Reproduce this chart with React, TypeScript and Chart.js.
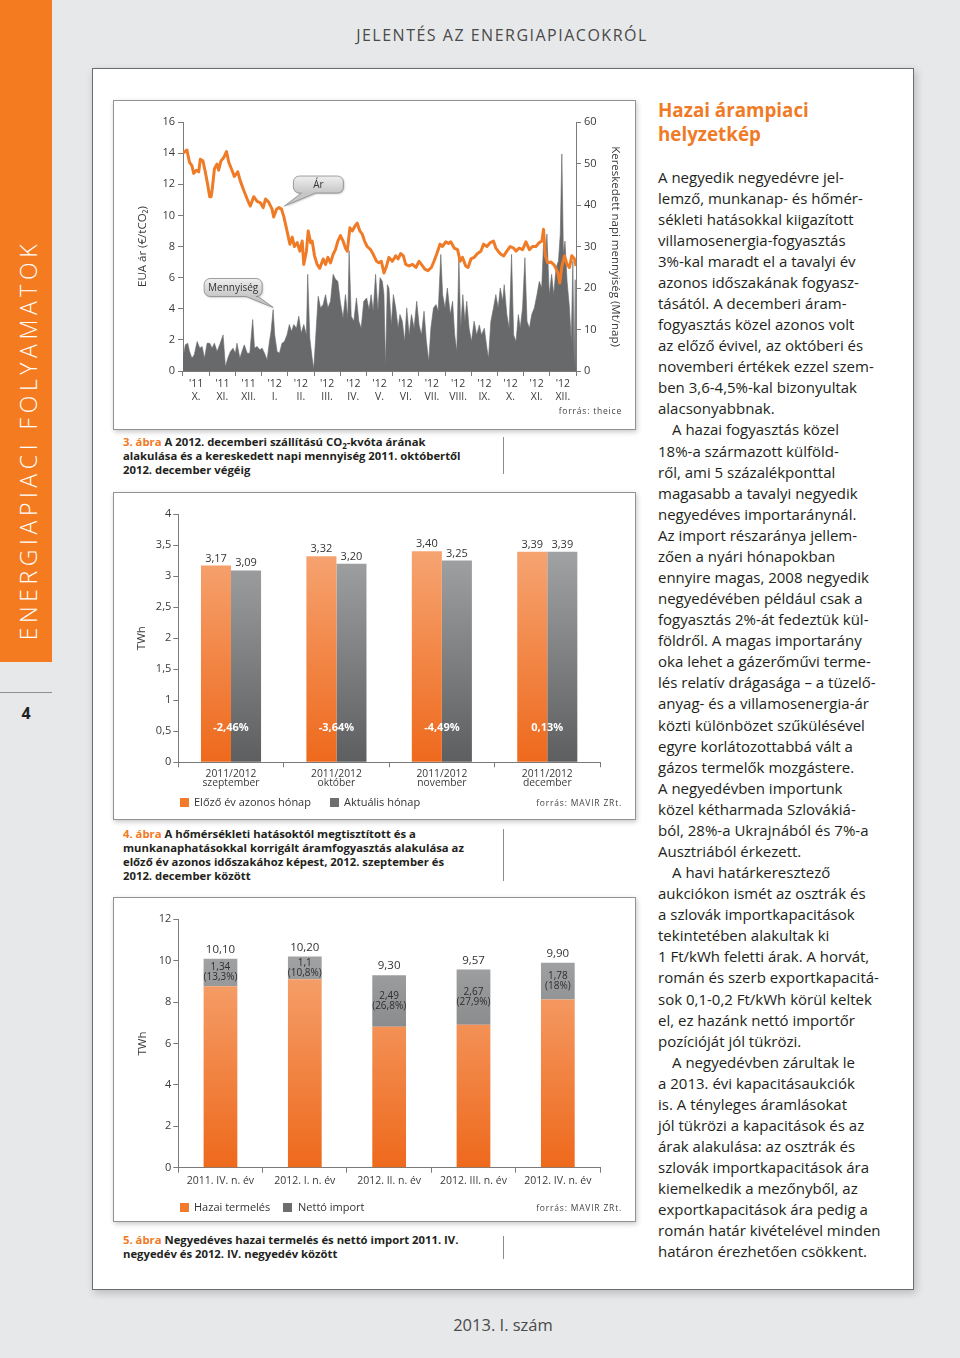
import React, { useEffect, useRef } from 'react';
import { Chart, registerables } from 'chart.js';

Chart.register(...registerables);

const FONT = '"Open Sans", "DejaVu Sans", sans-serif';
Chart.defaults.font.family = FONT;
Chart.defaults.color = '#3a3a3a';

// ---------- Chart 1 (3. ábra) data ----------
const monthYears = ["'11", "'11", "'11", "'12", "'12", "'12", "'12", "'12", "'12", "'12", "'12", "'12", "'12", "'12", "'12"];
const monthNames = ['X.', 'XI.', 'XII.', 'I.', 'II.', 'III.', 'IV.', 'V.', 'VI.', 'VII.', 'VIII.', 'IX.', 'X.', 'XI.', 'XII.'];

// time in months since 1 Oct 2011, price in EUR/tCO2
const priceT = [0, 0.15, 0.25, 0.34, 0.41, 0.51, 0.6, 0.66, 0.76, 0.85, 0.94, 1.02, 1.07, 1.11, 1.2, 1.3, 1.36, 1.45, 1.55, 1.66, 1.75, 1.87, 1.96, 2.09, 2.19, 2.32, 2.45, 2.57, 2.7, 2.83, 2.96, 3.06, 3.15, 3.27, 3.4, 3.46, 3.57, 3.66, 3.76, 3.85, 3.97, 4.08, 4.17, 4.25, 4.36, 4.46, 4.55, 4.61, 4.71, 4.78, 4.87, 4.93, 5.02, 5.12, 5.22, 5.35, 5.44, 5.53, 5.63, 5.73, 5.82, 5.91, 6.01, 6.11, 6.2, 6.27, 6.37, 6.46, 6.56, 6.65, 6.75, 6.84, 6.93, 7.03, 7.16, 7.26, 7.39, 7.48, 7.57, 7.67, 7.77, 7.86, 7.99, 8.12, 8.21, 8.31, 8.41, 8.5, 8.63, 8.76, 8.89, 9.01, 9.1, 9.23, 9.35, 9.48, 9.58, 9.68, 9.81, 9.9, 10.03, 10.13, 10.22, 10.35, 10.48, 10.58, 10.67, 10.79, 10.88, 10.99, 11.11, 11.24, 11.37, 11.47, 11.6, 11.73, 11.85, 11.94, 12.03, 12.13, 12.24, 12.36, 12.49, 12.62, 12.71, 12.83, 12.96, 13.09, 13.22, 13.34, 13.47, 13.6, 13.7, 13.76, 13.83, 13.92, 14.05, 14.17, 14.3, 14.38, 14.46, 14.56, 14.66, 14.75, 14.84, 14.94, 15];
const priceV = [14.0, 14.2, 13.4, 13.2, 12.7, 12.9, 12.8, 13.6, 13.5, 12.8, 12.0, 11.2, 11.2, 11.6, 13.0, 13.3, 12.9, 13.5, 13.7, 14.1, 13.4, 12.9, 12.5, 12.8, 12.2, 11.6, 11.05, 10.6, 11.2, 10.9, 10.8, 10.5, 11.05, 10.85, 10.4, 9.9, 10.4, 10.5, 10.4, 9.9, 9.0, 8.15, 8.6, 8.0, 8.25, 7.7, 8.35, 6.85, 7.7, 9.0, 8.25, 8.35, 7.4, 6.85, 6.6, 7.2, 6.85, 7.3, 6.95, 7.5, 7.8, 8.35, 8.7, 8.35, 7.9, 7.7, 9.2, 9.0, 9.3, 9.5, 9.0, 8.8, 8.35, 8.0, 7.8, 7.5, 7.05, 6.95, 7.05, 6.3, 6.75, 7.3, 7.05, 7.4, 7.2, 7.55, 7.4, 6.85, 6.75, 6.85, 6.65, 7.05, 6.85, 6.55, 6.45, 6.65, 7.05, 7.5, 8.15, 8.0, 8.3, 8.2, 8.3, 7.9, 7.8, 7.05, 7.3, 6.75, 6.65, 7.2, 7.3, 7.55, 7.7, 8.15, 8.0, 8.25, 8.35, 7.9, 7.7, 7.5, 7.4, 7.7, 8.0, 7.9, 7.7, 7.9, 7.8, 8.3, 7.8, 8.0, 8.0, 8.25, 8.35, 9.1, 7.4, 6.95, 7.0, 6.8, 6.35, 5.65, 6.7, 7.4, 6.85, 6.65, 7.4, 7.2, 6.75];

// traded daily volume, Mt/day
const volT = [0, 0.03, 0.09, 0.18, 0.25, 0.34, 0.43, 0.54, 0.64, 0.73, 0.82, 0.92, 1.02, 1.11, 1.2, 1.3, 1.4, 1.53, 1.62, 1.71, 1.81, 1.91, 2.0, 2.06, 2.17, 2.25, 2.34, 2.45, 2.55, 2.66, 2.73, 2.83, 2.93, 3.02, 3.11, 3.21, 3.3, 3.36, 3.44, 3.5, 3.59, 3.68, 3.78, 3.87, 3.97, 4.06, 4.14, 4.23, 4.33, 4.42, 4.51, 4.61, 4.71, 4.76, 4.84, 4.93, 4.99, 5.07, 5.16, 5.25, 5.35, 5.44, 5.53, 5.63, 5.73, 5.82, 5.91, 6.01, 6.11, 6.2, 6.29, 6.34, 6.42, 6.52, 6.62, 6.71, 6.8, 6.9, 7.01, 7.1, 7.18, 7.26, 7.35, 7.44, 7.52, 7.61, 7.67, 7.73, 7.8, 7.86, 7.95, 8.03, 8.12, 8.21, 8.28, 8.37, 8.46, 8.54, 8.63, 8.72, 8.82, 8.92, 9.01, 9.1, 9.2, 9.29, 9.38, 9.46, 9.56, 9.66, 9.74, 9.84, 9.91, 10.0, 10.09, 10.2, 10.29, 10.37, 10.45, 10.53, 10.6, 10.68, 10.76, 10.83, 10.92, 11.01, 11.11, 11.21, 11.31, 11.39, 11.5, 11.6, 11.66, 11.75, 11.85, 11.94, 12.03, 12.11, 12.2, 12.26, 12.36, 12.45, 12.54, 12.62, 12.71, 12.8, 12.87, 12.96, 13.05, 13.13, 13.22, 13.31, 13.41, 13.51, 13.6, 13.69, 13.76, 13.83, 13.89, 13.98, 14.07, 14.15, 14.24, 14.33, 14.4, 14.46, 14.52, 14.58, 14.66, 14.75, 14.82, 14.88, 14.93, 14.97, 15];
const volV = [3, 3, 6.3, 6.7, 4.7, 3.1, 3.9, 7.1, 5.5, 5.9, 3.1, 6.7, 6.7, 5.5, 6.7, 4.7, 6.3, 8.7, 1.0, 3.1, 4.7, 5.5, 4.3, 6.7, 3.1, 4.7, 6.3, 4.3, 4.3, 12.4, 5.5, 5.9, 5.1, 5.5, 4.3, 2.7, 7.1, 9.5, 14.8, 8.7, 4.7, 4.3, 6.7, 7.1, 8.7, 11.2, 9.5, 11.2, 10.3, 13.2, 9.1, 11.2, 8.7, 23.3, 7.9, 3.1, 0.5, 8.7, 18.0, 15.2, 16.0, 18.4, 15.2, 16.8, 23.3, 22.1, 21.6, 16.4, 12.8, 18.4, 12.8, 29, 13.2, 12, 17.6, 12, 10.3, 16.8, 17.6, 14.8, 18.4, 14.4, 23.3, 14.4, 22.5, 21.6, 18.4, 1.0, 20.8, 20, 11.1, 18.4, 15.2, 10.3, 13.6, 12, 7.1, 15.2, 8.7, 13.6, 10.3, 16.8, 11.1, 8.7, 14.4, 7.1, 2.3, 10.3, 15.2, 16, 14.4, 28.1, 18.4, 15.2, 20, 13.6, 16.8, 8.7, 4.7, 27.3, 10.3, 18.4, 12, 16.8, 10.3, 7.1, 12, 8.7, 11.1, 8.7, 10.3, 5.5, 3.1, 12, 15.2, 18.4, 15.2, 20, 16.8, 20.8, 13.6, 10.3, 28.1, 8.7, 7.1, 13.6, 10.3, 15.2, 27.3, 12, 10.3, 13.6, 15.2, 18.4, 21.6, 20, 30.5, 26.5, 33, 18.4, 23.3, 18.4, 24.9, 26.5, 33, 52.3, 28.1, 31.3, 21.6, 15.2, 7.1, 26.5, 0.6, 22, 0];

// callouts: text, time, value, axis
const calloutText = ['Ár', 'Mennyiség'];
const calloutT = [3.87, 3.44];
const calloutV = [10.6, 15.3];
const calloutAxis = ['y', 'y1'];

// ---------- Chart 2 (4. ábra) data ----------
const consCategories = [['2011/2012', 'szeptember'], ['2011/2012', 'október'], ['2011/2012', 'november'], ['2011/2012', 'december']];
const consPrev = [3.17, 3.32, 3.40, 3.39];
const consCurr = [3.09, 3.20, 3.25, 3.39];
const consChange = ['-2,46%', '-3,64%', '-4,49%', '0,13%'];

// ---------- Chart 3 (5. ábra) data ----------
const quarters = ['2011. IV. n. év', '2012. I. n. év', '2012. II. n. év', '2012. III. n. év', '2012. IV. n. év'];
const quarterTotal = [10.10, 10.20, 9.30, 9.57, 9.90];
const quarterImport = [1.34, 1.1, 2.49, 2.67, 1.78];
const quarterImportShare = ['13,3%', '10,8%', '26,8%', '27,9%', '18%'];
const quarterDomestic = quarterTotal.map((t, i) => +(t - quarterImport[i]).toFixed(2));

// ---------- styles ----------
const ORANGE = '#f07b27';
const AXIS = '#7a7a7a';
const TICK = '#3a3a3a';

const comma = (v: number) => String(v).replace('.', ',');
const fixed2 = (v: number) => v.toFixed(2).replace('.', ',');

function grad(chart: any, top: string, bottom: string) {
  const a = chart.chartArea;
  if (!a) return bottom;
  const g = chart.ctx.createLinearGradient(0, a.bottom, 0, a.top);
  g.addColorStop(0, bottom);
  g.addColorStop(1, top);
  return g;
}
const orangeFill = (c: any) => grad(c.chart, '#f7ae80', '#ee691c');
const grayFill = (c: any) => grad(c.chart, '#adaeb0', '#5d5e60');

const calloutPlugin = {
  id: 'callouts',
  afterDatasetsDraw(chart: any) {
    const { ctx, scales } = chart;
    const geo = [
      { dx: 9, dy: -30, w: 50, h: 17, b1: 8, b2: 22 },
      { dx: -69, dy: -29, w: 58, h: 18, b1: 42, b2: 54 },
    ];
    calloutText.forEach((txt, i) => {
      const tx = scales.x.getPixelForValue(calloutT[i]);
      const ty = scales[calloutAxis[i]].getPixelForValue(calloutV[i]);
      const g = geo[i];
      const x = tx + g.dx, y = ty + g.dy, w = g.w, h = g.h, r = 6;
      ctx.save();
      ctx.beginPath();
      ctx.moveTo(x + r, y);
      ctx.lineTo(x + w - r, y);
      ctx.arcTo(x + w, y, x + w, y + r, r);
      ctx.lineTo(x + w, y + h - r);
      ctx.arcTo(x + w, y + h, x + w - r, y + h, r);
      ctx.lineTo(x + g.b2, y + h);
      ctx.lineTo(tx, ty);
      ctx.lineTo(x + g.b1, y + h);
      ctx.lineTo(x + r, y + h);
      ctx.arcTo(x, y + h, x, y + h - r, r);
      ctx.lineTo(x, y + r);
      ctx.arcTo(x, y, x + r, y, r);
      ctx.closePath();
      const gr = ctx.createLinearGradient(0, y, 0, y + h);
      gr.addColorStop(0, '#efefef');
      gr.addColorStop(1, '#c6c6c6');
      ctx.fillStyle = gr;
      ctx.shadowColor = 'rgba(0,0,0,0.25)';
      ctx.shadowBlur = 2;
      ctx.shadowOffsetX = 1;
      ctx.shadowOffsetY = 1;
      ctx.fill();
      ctx.shadowColor = 'transparent';
      ctx.strokeStyle = '#8a8a8a';
      ctx.lineWidth = 0.8;
      ctx.stroke();
      ctx.fillStyle = '#333';
      ctx.font = `10px ${FONT}`;
      ctx.textAlign = 'center';
      ctx.textBaseline = 'middle';
      ctx.fillText(txt, x + w / 2, y + h / 2 + 0.5);
      ctx.restore();
    });
  },
};

function yAxis(opts: any) {
  return {
    border: { color: AXIS },
    grid: { drawOnChartArea: false, tickLength: 5, color: AXIS },
    ...opts,
  };
}

function config1(): any {
  return {
    type: 'line',
    data: {
      datasets: [
        {
          label: 'Ár',
          data: priceT.map((x, i) => ({ x, y: priceV[i] })),
          yAxisID: 'y',
          borderColor: ORANGE,
          borderWidth: 3,
          pointRadius: 0,
          borderJoinStyle: 'round',
          order: 0,
        },
        {
          label: 'Mennyiség',
          data: volT.map((x, i) => ({ x, y: volV[i] })),
          yAxisID: 'y1',
          fill: 'origin',
          backgroundColor: '#68696b',
          borderColor: '#68696b',
          borderWidth: 0.6,
          pointRadius: 0,
          order: 1,
        },
      ],
    },
    options: {
      animation: false,
      responsive: false,
      events: [],
      layout: { padding: { top: 22, left: 0, right: 0, bottom: 0 } },
      plugins: { legend: { display: false }, tooltip: { enabled: false } },
      scales: {
        x: {
          type: 'linear',
          min: 0,
          max: 15,
          afterBuildTicks: (s: any) => {
            s.ticks = monthNames.map((_, i) => ({ value: i + 0.5 }));
          },
          ticks: {
            autoSkip: false,
            maxRotation: 0,
            padding: 1,
            color: TICK,
            font: { size: 10.5, lineHeight: 1.3 },
            callback: (_v: any, i: number) => [monthYears[i], monthNames[i]],
          },
          grid: { offset: true, drawOnChartArea: false, tickLength: 5, color: AXIS },
          border: { color: AXIS },
          afterFit: (s: any) => { s.height = 59; },
        },
        y: yAxis({
          position: 'left',
          min: 0,
          max: 16,
          ticks: { stepSize: 2, padding: 3, color: TICK, font: { size: 11 } },
          title: { display: true, text: 'EUA ár (€/tCO₂)', color: TICK, font: { size: 11.5 }, padding: { top: 23, bottom: 0 } },
          afterFit: (s: any) => { s.width = 70; },
        }),
        y1: yAxis({
          position: 'right',
          min: 0,
          max: 60,
          ticks: { stepSize: 10, padding: 3, color: TICK, font: { size: 11 } },
          title: { display: true, text: 'Kereskedett napi mennyiség (Mt/nap)', color: TICK, font: { size: 11.5 }, padding: { top: 14, bottom: 0 } },
          afterFit: (s: any) => { s.width = 60; },
        }),
      },
    },
    plugins: [calloutPlugin],
  };
}

function barX(labels: any, height: number, fontSize: number, lh: number) {
  return {
    ticks: { color: TICK, font: { size: fontSize, lineHeight: lh }, padding: 2, maxRotation: 0, autoSkip: false },
    grid: { offset: true, drawOnChartArea: false, tickLength: 5, color: AXIS },
    border: { color: AXIS },
    afterFit: (s: any) => { s.height = height; },
  };
}

const consLabelPlugin = {
  id: 'consLabels',
  afterDatasetsDraw(chart: any) {
    const { ctx } = chart;
    ctx.save();
    ctx.font = `11px ${FONT}`;
    ctx.fillStyle = '#333';
    ctx.textAlign = 'center';
    ctx.textBaseline = 'alphabetic';
    chart.data.datasets.forEach((ds: any, di: number) => {
      chart.getDatasetMeta(di).data.forEach((bar: any, i: number) => {
        ctx.fillText(fixed2(ds.data[i]), bar.x, bar.y - 4);
      });
    });
    ctx.font = `bold 11px ${FONT}`;
    ctx.fillStyle = '#ffffff';
    ctx.textBaseline = 'middle';
    const y = chart.scales.y.getPixelForValue(0.55);
    consChange.forEach((t, i) => ctx.fillText(t, chart.scales.x.getPixelForValue(i), y));
    ctx.restore();
  },
};

function config2(): any {
  return {
    type: 'bar',
    data: {
      labels: consCategories,
      datasets: [
        { label: 'Előző év azonos hónap', data: consPrev, backgroundColor: orangeFill, categoryPercentage: 0.57, barPercentage: 1 },
        { label: 'Aktuális hónap', data: consCurr, backgroundColor: grayFill, categoryPercentage: 0.57, barPercentage: 1 },
      ],
    },
    options: {
      animation: false,
      responsive: false,
      events: [],
      layout: { padding: { top: 22, left: 0, right: 36, bottom: 0 } },
      plugins: { legend: { display: false }, tooltip: { enabled: false } },
      scales: {
        x: barX(consCategories, 57.7, 10.3, 0.9),
        y: yAxis({
          min: 0,
          max: 4,
          ticks: { stepSize: 0.5, padding: 2, color: TICK, font: { size: 11 }, callback: (v: number) => comma(v) },
          title: { display: true, text: 'TWh', color: TICK, font: { size: 11.5 }, padding: { top: 22, bottom: 0 } },
          afterFit: (s: any) => { s.width = 65.3; },
        }),
      },
    },
    plugins: [consLabelPlugin],
  };
}

const quarterLabelPlugin = {
  id: 'quarterLabels',
  afterDatasetsDraw(chart: any) {
    const { ctx } = chart;
    const top = chart.getDatasetMeta(1).data;
    const low = chart.getDatasetMeta(0).data;
    ctx.save();
    ctx.textAlign = 'center';
    ctx.fillStyle = '#333';
    top.forEach((bar: any, i: number) => {
      ctx.font = `11.5px ${FONT}`;
      ctx.textBaseline = 'alphabetic';
      ctx.fillText(fixed2(quarterTotal[i]), bar.x, bar.y - 6);
      const mid = (bar.y + low[i].y) / 2;
      ctx.font = `10px ${FONT}`;
      ctx.fillStyle = '#2e2e2e';
      ctx.textBaseline = 'middle';
      ctx.fillText(comma(quarterImport[i]), bar.x, mid - 5);
      ctx.fillText('(' + quarterImportShare[i] + ')', bar.x, mid + 5);
      ctx.fillStyle = '#333';
    });
    ctx.restore();
  },
};

function config3(): any {
  return {
    type: 'bar',
    data: {
      labels: quarters,
      datasets: [
        { label: 'Hazai termelés', data: quarterDomestic, backgroundColor: orangeFill, categoryPercentage: 1, barPercentage: 0.4 },
        { label: 'Nettó import', data: quarterImport, backgroundColor: grayFill, categoryPercentage: 1, barPercentage: 0.4 },
      ],
    },
    options: {
      animation: false,
      responsive: false,
      events: [],
      layout: { padding: { top: 22.3, left: 0, right: 36, bottom: 0 } },
      plugins: { legend: { display: false }, tooltip: { enabled: false } },
      scales: {
        x: { ...barX(quarters, 54.3, 10.5, 1.2), stacked: true },
        y: yAxis({
          stacked: true,
          min: 0,
          max: 12,
          ticks: { stepSize: 2, padding: 2, color: TICK, font: { size: 11 } },
          title: { display: true, text: 'TWh', color: TICK, font: { size: 11.5 }, padding: { top: 23, bottom: 0 } },
          afterFit: (s: any) => { s.width = 65.3; },
        }),
      },
    },
    plugins: [quarterLabelPlugin],
  };
}

const bodyLines: [string, boolean][] = [
  ['A negyedik negyedévre jel-', false],
  ['lemző, munkanap- és hőmér-', false],
  ['sékleti hatásokkal kiigazított', false],
  ['villamosenergia-fogyasztás', false],
  ['3%-kal maradt el a tavalyi év', false],
  ['azonos időszakának fogyasz-', false],
  ['tásától. A decemberi áram-', false],
  ['fogyasztás közel azonos volt', false],
  ['az előző évivel, az októberi és', false],
  ['novemberi értékek ezzel szem-', false],
  ['ben 3,6-4,5%-kal bizonyultak', false],
  ['alacsonyabbnak.', false],
  ['A hazai fogyasztás közel', true],
  ['18%-a származott külföld-', false],
  ['ről, ami 5 százalékponttal', false],
  ['magasabb a tavalyi negyedik', false],
  ['negyedéves importaránynál.', false],
  ['Az import részaránya jellem-', false],
  ['zően a nyári hónapokban', false],
  ['ennyire magas, 2008 negyedik', false],
  ['negyedévében például csak a', false],
  ['fogyasztás 2%-át fedeztük kül-', false],
  ['földről. A magas importarány', false],
  ['oka lehet a gázerőművi terme-', false],
  ['lés relatív drágasága – a tüzelő-', false],
  ['anyag- és a villamosenergia-ár', false],
  ['közti különbözet szűkülésével', false],
  ['egyre korlátozottabbá vált a', false],
  ['gázos termelők mozgástere.', false],
  ['A negyedévben importunk', false],
  ['közel kétharmada Szlovákiá-', false],
  ['ból, 28%-a Ukrajnából és 7%-a', false],
  ['Ausztriából érkezett.', false],
  ['A havi határkeresztező', true],
  ['aukciókon ismét az osztrák és', false],
  ['a szlovák importkapacitások', false],
  ['tekintetében alakultak ki', false],
  ['1 Ft/kWh feletti árak. A horvát,', false],
  ['román és szerb exportkapacitá-', false],
  ['sok 0,1-0,2 Ft/kWh körül keltek', false],
  ['el, ez hazánk nettó importőr', false],
  ['pozícióját jól tükrözi.', false],
  ['A negyedévben zárultak le', true],
  ['a 2013. évi kapacitásaukciók', false],
  ['is. A tényleges áramlásokat', false],
  ['jól tükrözi a kapacitások és az', false],
  ['árak alakulása: az osztrák és', false],
  ['szlovák importkapacitások ára', false],
  ['kiemelkedik a mezőnyből, az', false],
  ['exportkapacitások ára pedig a', false],
  ['román határ kivételével minden', false],
  ['határon érezhetően csökkent.', false],
];

const abs = (l: number, t: number, extra: any = {}): any => ({ position: 'absolute', left: l, top: t, ...extra });

function Box({ l, t, w, h }: { l: number; t: number; w: number; h: number }) {
  return (
    <div
      style={abs(l, t, {
        width: w - 2,
        height: h - 2,
        border: '1px solid #929292',
        background: '#fff',
        boxShadow: '1px 2px 5px rgba(0,0,0,0.22)',
      })}
    />
  );
}

function Caption({ t, num, lines, lineTop, lineBottom }: any) {
  return (
    <>
      <div style={abs(123, t, { fontSize: 11.3, fontWeight: 700, lineHeight: '14px', color: '#231f20', whiteSpace: 'pre' })}>
        {lines.map((ln: any, i: number) => (
          <div key={i}>
            {i === 0 && <span style={{ color: ORANGE }}>{num} </span>}
            {ln}
          </div>
        ))}
      </div>
      <div style={abs(503, lineTop, { width: 1, height: lineBottom - lineTop, background: '#8c8c8c' })} />
    </>
  );
}

function Legend({ t, items }: any) {
  return (
    <>
      {items.map((it: any, i: number) => (
        <React.Fragment key={i}>
          <div style={abs(it.sx, t - 4.5, { width: 9, height: 9, background: it.color })} />
          <div style={abs(it.tx, t - 8, { fontSize: 11, lineHeight: '16px', color: '#333', whiteSpace: 'nowrap' })}>{it.text}</div>
        </React.Fragment>
      ))}
    </>
  );
}

function Source({ text, t }: any) {
  return (
    <div style={abs(400, t - 6, { width: 222, textAlign: 'right', fontSize: 8.5, lineHeight: '12px', letterSpacing: 0.8, color: '#444' })}>
      {text}
    </div>
  );
}

export default function App() {
  const c1 = useRef<HTMLCanvasElement>(null);
  const c2 = useRef<HTMLCanvasElement>(null);
  const c3 = useRef<HTMLCanvasElement>(null);

  useEffect(() => {
    document.body.style.margin = '0';
    const charts = [
      new Chart(c1.current as HTMLCanvasElement, config1()),
      new Chart(c2.current as HTMLCanvasElement, config2()),
      new Chart(c3.current as HTMLCanvasElement, config3()),
    ];
    return () => charts.forEach((c) => c.destroy());
  }, []);

  return (
    <div style={{ position: 'relative', width: 960, height: 1358, background: '#e7e8e9', overflow: 'hidden', fontFamily: FONT, color: '#231f20' }}>
      {/* sidebar */}
      <div style={abs(0, 0, { width: 52, height: 662, background: '#f47b20' })} />
      <div
        style={abs(28 - 260, 440 - 15, {
          width: 520,
          height: 30,
          lineHeight: '30px',
          textAlign: 'center',
          transform: 'rotate(-90deg)',
          color: '#fff',
          fontSize: 23,
          fontWeight: 300,
          letterSpacing: 4.6,
          whiteSpace: 'nowrap',
        })}
      >
        ENERGIAPIACI FOLYAMATOK
      </div>
      <div style={abs(0, 692, { width: 52, height: 1, background: '#8f8f8f' })} />
      <div style={abs(0, 703, { width: 52, textAlign: 'center', fontSize: 16, fontWeight: 700, lineHeight: '20px', color: '#231f20' })}>4</div>

      {/* header */}
      <div style={abs(252, 25, { width: 500, textAlign: 'center', fontSize: 16, lineHeight: '20px', letterSpacing: 1.5, color: '#4a4a4a' })}>
        JELENTÉS AZ ENERGIAPIACOKRÓL
      </div>

      {/* white panel */}
      <div style={abs(92, 68, { width: 820, height: 1220, background: '#fff', border: '1px solid #6c6c6c', boxShadow: '2px 3px 8px rgba(0,0,0,0.2)' })} />

      {/* chart boxes */}
      <Box l={113} t={100} w={523} h={330} />
      <Box l={113} t={492} w={523} h={328} />
      <Box l={113} t={897} w={523} h={325} />

      <canvas ref={c1} width={523} height={330} style={abs(113, 100, { width: 523, height: 330 })} />
      <canvas ref={c2} width={523} height={328} style={abs(113, 492, { width: 523, height: 328 })} />
      <canvas ref={c3} width={523} height={325} style={abs(113, 897, { width: 523, height: 325 })} />

      <Source text="forrás: theice" t={411} />
      <Legend
        t={802}
        items={[
          { sx: 180, tx: 194, color: '#f17a2b', text: 'Előző év azonos hónap' },
          { sx: 330, tx: 344, color: '#6d6e70', text: 'Aktuális hónap' },
        ]}
      />
      <Source text="forrás: MAVIR ZRt." t={803} />
      <Legend
        t={1207}
        items={[
          { sx: 180, tx: 194, color: '#f17a2b', text: 'Hazai termelés' },
          { sx: 283, tx: 298, color: '#6d6e70', text: 'Nettó import' },
        ]}
      />
      <Source text="forrás: MAVIR ZRt." t={1208} />

      {/* captions */}
      <div style={abs(123, 435, { fontSize: 11.3, fontWeight: 700, lineHeight: '14px', color: '#231f20', whiteSpace: 'pre' })}>
        <div>
          <span style={{ color: ORANGE }}>3. ábra </span>A 2012. decemberi szállítású CO
          <sub style={{ fontSize: 8, lineHeight: 0 }}>2</sub>-kvóta árának
        </div>
        <div>alakulása és a kereskedett napi mennyiség 2011. októbertől</div>
        <div>2012. december végéig</div>
      </div>
      <div style={abs(503, 437, { width: 1, height: 37, background: '#8c8c8c' })} />
      <Caption
        t={827}
        num="4. ábra"
        lines={[
          'A hőmérsékleti hatásoktól megtisztított és a',
          'munkanaphatásokkal korrigált áramfogyasztás alakulása az',
          'előző év azonos időszakához képest, 2012. szeptember és',
          '2012. december között',
        ]}
        lineTop={829}
        lineBottom={881}
      />
      <Caption
        t={1233}
        num="5. ábra"
        lines={['Negyedéves hazai termelés és nettó import 2011. IV.', 'negyedév és 2012. IV. negyedév között']}
        lineTop={1236}
        lineBottom={1259}
      />

      {/* right column */}
      <div style={abs(658, 98, { fontSize: 18.8, fontWeight: 700, lineHeight: '24px', color: ORANGE, whiteSpace: 'pre' })}>
        <div>Hazai árampiaci</div>
        <div>helyzetkép</div>
      </div>
      <div style={abs(658, 166.5, { fontSize: 15, lineHeight: '21.08px', color: '#231f20', whiteSpace: 'pre' })}>
        {bodyLines.map(([t, ind], i) => (
          <div key={i} style={{ paddingLeft: ind ? 14 : 0 }}>
            {t}
          </div>
        ))}
      </div>

      {/* footer */}
      <div style={abs(403, 1315, { width: 200, textAlign: 'center', fontSize: 16.5, lineHeight: '20px', color: '#4a4a4a' })}>2013. I. szám</div>
    </div>
  );
}
